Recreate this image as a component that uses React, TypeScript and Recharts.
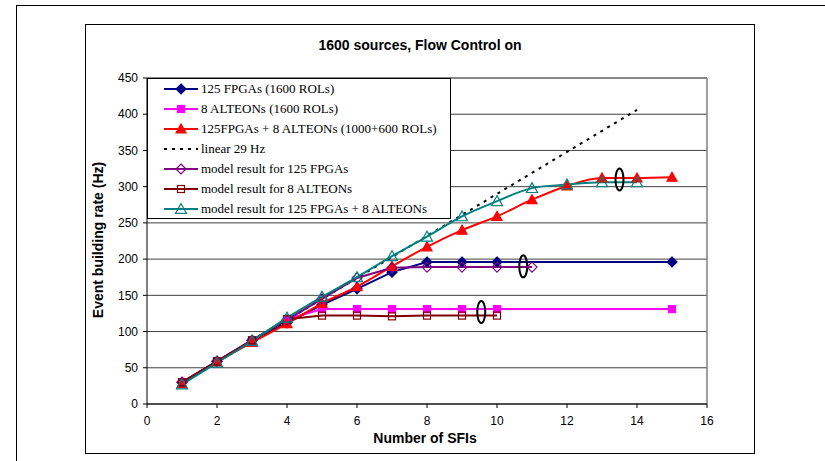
import React from 'react';
import { LineChart, Line, XAxis, YAxis, CartesianGrid, ReferenceLine, ReferenceDot, Legend } from 'recharts';

const SANS = '"Liberation Sans", Arial, sans-serif';
const SERIF = '"Liberation Serif", "Times New Roman", serif';

// number of SFIs for each series
const xFpga = [1, 2, 3, 4, 5, 6, 7, 8, 9, 10, 15];
const xAlteon = [1, 2, 3, 4, 5, 6, 7, 8, 9, 10, 15];
const xCombined = [1, 2, 3, 4, 5, 6, 7, 8, 9, 10, 11, 12, 13, 14, 15];
const xLinear = [1, 2, 3, 4, 5, 6, 7, 8, 9, 10, 11, 12, 13, 14];
const xModelFpga = [1, 2, 3, 4, 5, 6, 7, 8, 9, 10, 11];
const xModelAlteon = [1, 2, 3, 4, 5, 6, 7, 8, 9, 10];
const xModelCombined = [1, 2, 3, 4, 5, 6, 7, 8, 9, 10, 11, 12, 13, 14];

// event building rate (Hz)
const yFpga = [30, 59, 88, 112, 137, 159, 182, 196, 196, 196, 196];
const yAlteon = [30, 59, 88, 117, 131, 131, 131, 131, 131, 131, 131];
const yCombined = [28, 58, 85, 111, 139, 162, 190, 217, 240, 259, 282, 301, 312, 312, 313];
const yLinear = [29, 58, 87, 116, 145, 174, 203, 232, 261, 290, 319, 348, 377, 406];
const yModelFpga = [30, 59, 88, 116, 145, 174, 188, 189, 189, 189, 189];
const yModelAlteon = [30, 59, 88, 117, 122, 122, 121, 122, 122, 122];
const yModelCombined = [27, 57, 87, 119, 148, 175, 204, 231, 259, 280, 298, 303, 306, 306];

// annotation ellipses where the model curves level off
const ellipses = [
  { x: 13.5, y: 310 },
  { x: 10.75, y: 190 },
  { x: 9.55, y: 127 },
];

const xTicks = [0, 2, 4, 6, 8, 10, 12, 14, 16];
const yTicks = [0, 50, 100, 150, 200, 250, 300, 350, 400, 450];

const toPoints = (xs: number[], ys: number[]) => xs.map((x, i) => ({ x, y: ys[i] }));

type Kind = 'diamond' | 'square' | 'triangle' | 'none';

interface SeriesDef {
  name: string;
  color: string;
  kind: Kind;
  filled: boolean;
  r: number;
  smooth: boolean;
  dash?: string;
  data: { x: number; y: number }[];
}

const SERIES: SeriesDef[] = [
  { name: '125 FPGAs (1600 ROLs)', color: '#000080', kind: 'diamond', filled: true, r: 5, smooth: false, data: toPoints(xFpga, yFpga) },
  { name: '8 ALTEONs (1600 ROLs)', color: '#FF00FF', kind: 'square', filled: true, r: 3.5, smooth: false, data: toPoints(xAlteon, yAlteon) },
  { name: '125FPGAs + 8 ALTEONs (1000+600 ROLs)', color: '#FF0000', kind: 'triangle', filled: true, r: 5, smooth: true, data: toPoints(xCombined, yCombined) },
  { name: 'linear 29 Hz', color: '#000000', kind: 'none', filled: false, r: 0, smooth: false, dash: '3 5', data: toPoints(xLinear, yLinear) },
  { name: 'model result for 125 FPGAs', color: '#800080', kind: 'diamond', filled: false, r: 5, smooth: false, data: toPoints(xModelFpga, yModelFpga) },
  { name: 'model result for 8 ALTEONs', color: '#800000', kind: 'square', filled: false, r: 3.5, smooth: false, data: toPoints(xModelAlteon, yModelAlteon) },
  { name: 'model result for 125 FPGAs + 8 ALTEONs', color: '#008080', kind: 'triangle', filled: false, r: 5.5, smooth: true, data: toPoints(xModelCombined, yModelCombined) },
];

function Marker({ kind, cx, cy, color, filled, r }: { kind: Kind; cx: number; cy: number; color: string; filled: boolean; r: number }) {
  const fill = filled ? color : 'none';
  const sw = 1.2;
  if (kind === 'diamond') {
    return <polygon points={`${cx},${cy - r} ${cx + r},${cy} ${cx},${cy + r} ${cx - r},${cy}`} fill={fill} stroke={color} strokeWidth={sw} />;
  }
  if (kind === 'square') {
    return <rect x={cx - r} y={cy - r} width={2 * r} height={2 * r} fill={fill} stroke={color} strokeWidth={sw} />;
  }
  if (kind === 'triangle') {
    return <polygon points={`${cx},${cy - r} ${cx + r},${cy + r * 0.8} ${cx - r},${cy + r * 0.8}`} fill={fill} stroke={color} strokeWidth={sw} />;
  }
  return null;
}

// keep the legend rows in the series order, not the order recharts hands back
const renderLegend = (props: any) => {
  const names = new Set((props.payload || []).map((p: any) => p.value));
  return (
    <div style={{ boxSizing: 'border-box', width: 304, height: 141, border: '1px solid #000', background: '#fff' }}>
      {SERIES.filter((s) => names.has(s.name)).map((s) => (
        <div key={s.name} style={{ display: 'flex', alignItems: 'center', height: 20 }}>
          <svg width={52} height={14} style={{ flex: 'none' }}>
            <line x1={16} y1={7} x2={50} y2={7} stroke={s.color} strokeWidth={2} strokeDasharray={s.dash} />
            <Marker kind={s.kind} cx={33} cy={7} color={s.color} filled={s.filled} r={s.r} />
          </svg>
          <span style={{ fontFamily: SERIF, fontSize: 13, color: '#000', whiteSpace: 'nowrap', marginLeft: 1 }}>{s.name}</span>
        </div>
      ))}
    </div>
  );
};

const Ellipse = (props: any) => (
  <ellipse cx={props.cx} cy={props.cy} rx={4} ry={11} fill="none" stroke="#000" strokeWidth={2} />
);

export default function App() {
  return (
    <div style={{ position: 'absolute', left: 0, top: 0, width: 825, height: 461, background: '#fff', overflow: 'hidden' }}>
      <div style={{ position: 'absolute', left: 16, top: 5, width: 900, height: 600, borderLeft: '1.5px solid #000', borderTop: '1.5px solid #000' }} />
      <div style={{ position: 'absolute', left: 85, top: 24 }}>
        <LineChart width={670} height={430} margin={{ top: 54, right: 48, bottom: 0, left: 12 }}>
          <CartesianGrid horizontal vertical={false} stroke="#404040" strokeWidth={1} />
          <XAxis
            type="number"
            dataKey="x"
            domain={[0, 16]}
            ticks={xTicks}
            allowDuplicatedCategory={false}
            height={50}
            stroke="#000"
            tickSize={4}
            tickMargin={8}
            tick={{ fill: '#000', fontSize: 12, fontFamily: SANS }}
          />
          <YAxis
            type="number"
            dataKey="y"
            domain={[0, 450]}
            ticks={yTicks}
            width={50}
            stroke="#000"
            tickSize={4}
            tickMargin={5}
            tick={{ fill: '#000', fontSize: 12, fontFamily: SANS }}
          />
          <ReferenceLine y={450} stroke="#808080" strokeWidth={1.5} />
          <ReferenceLine x={16} stroke="#808080" strokeWidth={1.5} />
          {SERIES.map((s) => (
            <Line
              key={s.name}
              name={s.name}
              data={s.data}
              dataKey="y"
              type={s.smooth ? 'monotone' : 'linear'}
              stroke={s.color}
              strokeWidth={2}
              strokeDasharray={s.dash}
              dot={
                s.kind === 'none'
                  ? false
                  : (p: any) => (
                      <Marker key={`${s.name}-${p.index}`} kind={s.kind} cx={p.cx} cy={p.cy} color={s.color} filled={s.filled} r={s.r} />
                    )
              }
              activeDot={false}
              legendType="line"
              isAnimationActive={false}
            />
          ))}
          {ellipses.map((e, i) => (
            <ReferenceDot key={i} x={e.x} y={e.y} shape={Ellipse} />
          ))}
          <Legend
            layout="vertical"
            align="center"
            verticalAlign="middle"
            content={renderLegend}
            wrapperStyle={{ left: 62, top: 54, width: 304, height: 141 }}
          />
        </LineChart>
      </div>
      <div style={{ position: 'absolute', left: 85, top: 24, width: 670, height: 430, boxSizing: 'border-box', border: '1.5px solid #000', pointerEvents: 'none' }} />
      <div style={{ position: 'absolute', left: 270, top: 37, width: 300, textAlign: 'center', fontFamily: SANS, fontWeight: 'bold', fontSize: 14, lineHeight: '16px' }}>
        1600 sources, Flow Control on
      </div>
      <div style={{ position: 'absolute', left: 325, top: 430, width: 200, textAlign: 'center', fontFamily: SANS, fontWeight: 'bold', fontSize: 14, lineHeight: '16px' }}>
        Number of SFIs
      </div>
      <div style={{ position: 'absolute', left: -2, top: 232, width: 200, height: 16, textAlign: 'center', fontFamily: SANS, fontWeight: 'bold', fontSize: 14, lineHeight: '16px', transform: 'rotate(-90deg)', transformOrigin: '100px 8px' }}>
        Event building rate (Hz)
      </div>
    </div>
  );
}
